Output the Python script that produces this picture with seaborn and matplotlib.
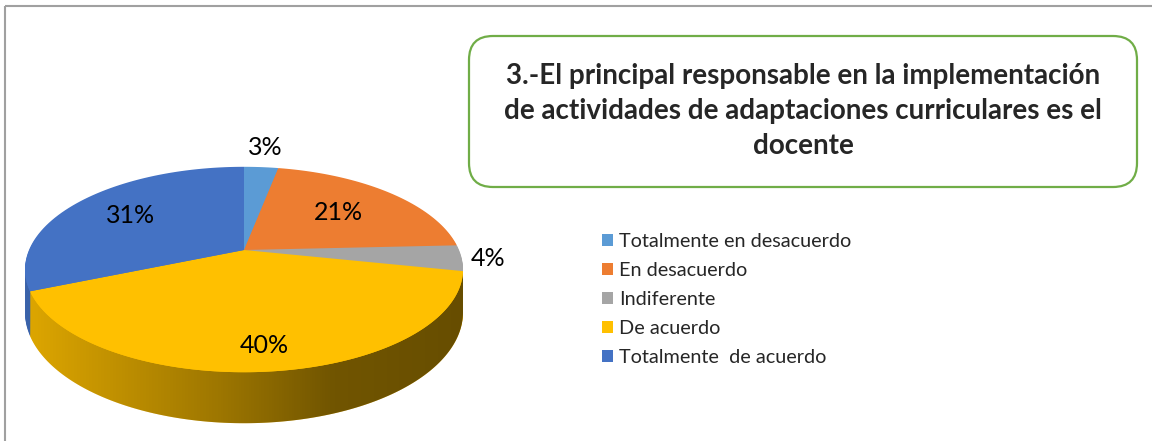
import numpy as np
import matplotlib
matplotlib.use('Agg')
import matplotlib.pyplot as plt
import matplotlib.transforms as mtransforms
from matplotlib.path import Path
from matplotlib.patches import FancyBboxPatch, Polygon, Rectangle
import seaborn as sns

categories = ['Totalmente en desacuerdo', 'En desacuerdo', 'Indiferente',
              'De acuerdo', 'Totalmente  de acuerdo']
percentages = [3, 21, 4, 40, 31]
pct_labels = ['3%', '21%', '4%', '40%', '31%']
title = ('3.-El principal responsable en la implementación\n'
         'de actividades de adaptaciones curriculares es el\n'
         'docente')
slice_colors = ['#5B9BD5', '#ED7D31', '#A5A5A5', '#FFC000', '#4472C4']

# layout (figure pixels, y down)
CX, CY = 244, 250          # pie centre
BX, AY = 215, 99           # horizontal / vertical radius scale
K = 0.19                   # perspective strength
DEPTH = 41.3               # thickness of the pie
label_r = [1.30, 0.63, 1.12, 0.82, 0.68]


class Perspective(mtransforms.Transform):
    input_dims = 2
    output_dims = 2

    def __init__(self, drop=0.0):
        super().__init__()
        self.drop = drop

    def transform_non_affine(self, xy):
        xy = np.asarray(xy, dtype=float).reshape(-1, 2)
        u = xy[:, 0]
        v = -xy[:, 1]
        w = 1 - K * v
        return np.column_stack([CX + BX * u / w, CY + (AY * v + self.drop) / w])

    def transform_path_non_affine(self, path):
        polys = path.to_polygons(transform=mtransforms.Affine2D().scale(1000))
        parts = [Path(self.transform_non_affine(p / 1000.0), closed=True) for p in polys]
        return Path.make_compound_path(*parts)


sns.set_style('white')
plt.rcParams['font.family'] = ['Lato', 'DejaVu Sans']

fig = plt.figure(figsize=(11.52, 4.41), dpi=100)
ax = fig.add_axes([0, 0, 1, 1])
palette = sns.color_palette(slice_colors)

# side of the pie: stacked layers
for s in np.linspace(1, 0, 45)[:-1]:
    tr = Perspective(DEPTH * s) + ax.transData
    wedges, _ = ax.pie(percentages, colors=palette, startangle=90, counterclock=False,
                       wedgeprops=dict(linewidth=0))
    for w in wedges:
        w.set_transform(tr)
        w.set_zorder(1)

# shading gradient on the side
t0 = np.arcsin(K)
theta = np.linspace(np.pi + t0, 2 * np.pi - t0, 200)
circ = np.column_stack([np.cos(theta), np.sin(theta)])
bottom = Perspective(DEPTH).transform(circ)
top = Perspective(0).transform(circ)[::-1]
band = Polygon(np.vstack([bottom, top]), closed=True, transform=ax.transData,
               facecolor='none', edgecolor='none')
ax.add_patch(band)
x0, x1 = bottom[:, 0].min() - 2, bottom[:, 0].max() + 2
xs = np.linspace(0, 1, 300)
alpha = np.interp(xs, [0, 0.45, 0.7, 1], [0.13, 0.39, 0.56, 0.6])
grad = np.zeros((1, 300, 4))
grad[0, :, 3] = alpha
im = ax.imshow(grad, extent=[x0, x1, CY + AY / (1 - K) + DEPTH / (1 - K) + 2, CY - 30],
               aspect='auto', zorder=2, interpolation='bilinear')
im.set_clip_path(band)

# top face
wedges, _ = ax.pie(percentages, colors=palette, startangle=90, counterclock=False,
                   wedgeprops=dict(linewidth=0))
top_tr = Perspective(0) + ax.transData
for w in wedges:
    w.set_transform(top_tr)
    w.set_zorder(3)

# percentage labels
total = sum(percentages)
cum = np.cumsum([0] + percentages)
for i, lab in enumerate(pct_labels):
    mid = (cum[i] + cum[i + 1]) / 2 / total * 2 * np.pi
    px, py = label_r[i] * np.sin(mid), label_r[i] * np.cos(mid)
    X, Y = Perspective(0).transform([[px, py]])[0]
    ax.text(X, Y, lab, ha='center', va='center', fontsize=18, color='black', zorder=5)

ax.set_xlim(0, 1152)
ax.set_ylim(441, 0)
ax.set_aspect('auto')
ax.axis('off')

# chart border (top and left visible)
ax.add_patch(Rectangle((5, 6), 1200, 500, facecolor='none', edgecolor='#a0a0a0',
                       linewidth=1.5, zorder=0))

# title box
ax.add_patch(FancyBboxPatch((469, 36), 668, 151,
                            boxstyle='round,pad=0,rounding_size=24',
                            facecolor='white', edgecolor='#70AD47', linewidth=1.6, zorder=4))
ax.text(803, 111, title, ha='center', va='center', multialignment='center',
        fontsize=20, fontweight='bold', linespacing=1.42, zorder=5)

# legend
leg = ax.legend(wedges, categories, loc='upper left', bbox_to_anchor=(602, 233),
                bbox_transform=ax.transData, frameon=False, fontsize=14.3,
                handlelength=0.55, handleheight=0.55, handletextpad=0.3,
                labelspacing=0.61, borderpad=0, borderaxespad=0)

fig.savefig('out.png', dpi=100)
